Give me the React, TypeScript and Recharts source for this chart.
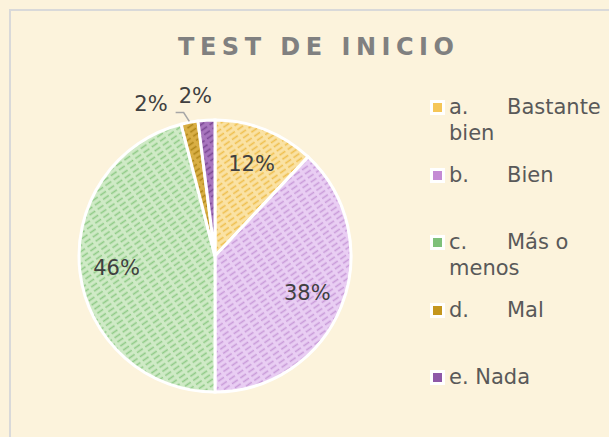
import React from 'react';
import { PieChart, Pie, Cell, Legend } from 'recharts';

const categories = ['a.\tBastante bien', 'b.\tBien', 'c.\tMás o menos', 'd.\tMal', 'e. Nada'];
const values = [12, 38, 46, 2, 2];
const title = 'TEST DE INICIO';

const bgColors = ['#FAE2A4', '#E9CEF3', '#CFEAC6', '#D9AF45', '#A876BE'];
const dashColors = ['#EFBF4E', '#C99BD9', '#8FCB86', '#AE8518', '#7A4894'];
const legendColors = ['#F5C658', '#C48AD4', '#7EC07A', '#C4961E', '#8E58A8'];

const data = categories.map((name, i) => ({ name, value: values[i] }));

const RAD = Math.PI / 180;
const LABEL_FONT = '"DejaVu Sans", Verdana, sans-serif';

const renderLabel = (props: any) => {
  const { cx, cy, midAngle, outerRadius, value, index } = props;
  const cos = Math.cos(-midAngle * RAD);
  const sin = Math.sin(-midAngle * RAD);
  const text = `${value}%`;
  if (value >= 5) {
    const r = outerRadius * 0.73;
    return (
      <text x={cx + r * cos} y={cy + r * sin} textAnchor="middle" dominantBaseline="central"
        fill="#404040" fontSize={21} fontFamily={LABEL_FONT}>{text}</text>
    );
  }
  if (index === 3) {
    const x0 = cx + (outerRadius + 1) * cos;
    const y0 = cy + (outerRadius + 1) * sin;
    const x1 = cx + (outerRadius + 10) * cos - 4;
    const y1 = cy + (outerRadius + 10) * sin;
    const x2 = x1 - 8;
    return (
      <g>
        <polyline points={`${x0},${y0} ${x1},${y1} ${x2},${y1}`} fill="none" stroke="#A6A6A6" strokeWidth={1.5} />
        <text x={x2 - 8} y={y1 - 9} textAnchor="end" dominantBaseline="central"
          fill="#404040" fontSize={21} fontFamily={LABEL_FONT}>{text}</text>
      </g>
    );
  }
  const r = outerRadius + 24;
  return (
    <text x={cx + r * cos + 7} y={cy + r * sin} textAnchor="end" dominantBaseline="central"
      fill="#404040" fontSize={21} fontFamily={LABEL_FONT}>{text}</text>
  );
};

const splitLines = (text: string): string[] => {
  const words = text.split(' ');
  const lines: string[] = [];
  let cur = '';
  words.forEach((w) => {
    const next = cur ? cur + ' ' + w : w;
    if (cur && next.length > 8) {
      lines.push(cur);
      cur = w;
    } else {
      cur = next;
    }
  });
  if (cur) lines.push(cur);
  return lines;
};

const renderLegend = (props: any) => {
  const { payload } = props;
  return (
    <div style={{ fontFamily: LABEL_FONT, fontSize: 21, color: '#595959', lineHeight: '26px' }}>
      {(payload || []).map((entry: any, i: number) => {
        const name: string = entry.value;
        const parts = name.split('\t');
        const idx = categories.indexOf(name);
        let rows: React.ReactNode[];
        if (parts.length > 1) {
          const lines = splitLines(parts[1]);
          rows = [
            <div key="l0" style={{ height: 26, whiteSpace: 'nowrap' }}>
              <span style={{ display: 'inline-block', width: 58 }}>{parts[0]}</span>
              <span>{lines[0]}</span>
            </div>,
            ...lines.slice(1).map((l, j) => (
              <div key={`l${j + 1}`} style={{ height: 26, whiteSpace: 'nowrap' }}>{l}</div>
            )),
          ];
        } else {
          rows = [<div key="l0" style={{ height: 26, whiteSpace: 'nowrap' }}>{parts[0]}</div>];
        }
        return (
          <div key={i} style={{ height: 67.5, position: 'relative', paddingLeft: 19 }}>
            <div style={{ position: 'absolute', left: 0, top: 6, width: 15, height: 15, background: '#FFFFFF' }}>
              <div style={{ position: 'absolute', left: 3, top: 3, width: 9, height: 9, background: legendColors[idx] }} />
            </div>
            {rows}
          </div>
        );
      })}
    </div>
  );
};

export default function App() {
  const ls = 5.5;
  return (
    <div style={{ position: 'absolute', left: 0, top: 0, width: 609, height: 437, background: '#FCF3DC', overflow: 'hidden' }}>
      <div style={{ position: 'absolute', left: 9, top: 9, width: 640, height: 460, borderLeft: '2px solid #D9D9D9', borderTop: '2px solid #D9D9D9' }} />
      <div style={{ position: 'absolute', left: 0, width: 632 + ls, top: 32, textAlign: 'center', fontFamily: LABEL_FONT, fontWeight: 'bold', fontSize: 24, letterSpacing: ls, color: '#808080', lineHeight: '30px', whiteSpace: 'nowrap' }}>
        {title}
      </div>
      <div style={{ position: 'absolute', left: 0, top: 0 }}>
        <PieChart width={609} height={437} margin={{ top: 0, right: 0, bottom: 0, left: 0 }}>
          <defs>
            {bgColors.map((bg, i) => (
              <pattern key={i} id={`pat${i}`} width={10} height={5} patternUnits="userSpaceOnUse" patternTransform="rotate(-35)">
                <rect x={0} y={0} width={10} height={5} fill={bg} />
                <line x1={0} y1={2.5} x2={7} y2={2.5} stroke={dashColors[i]} strokeWidth={1.6} />
              </pattern>
            ))}
          </defs>
          <Pie data={data} dataKey="value" nameKey="name" cx={215} cy={256} outerRadius={136}
            startAngle={90} endAngle={-270} stroke="#FFFFFF" strokeWidth={3}
            label={renderLabel} labelLine={false} isAnimationActive={false}>
            {data.map((d, i) => (
              <Cell key={d.name} fill={`url(#pat${i})`} />
            ))}
          </Pie>
          <Legend layout="vertical" verticalAlign="top" align="right" content={renderLegend}
            wrapperStyle={{ position: 'absolute', left: 430, top: 94, width: 179, right: 'auto', bottom: 'auto' }} />
        </PieChart>
      </div>
    </div>
  );
}
